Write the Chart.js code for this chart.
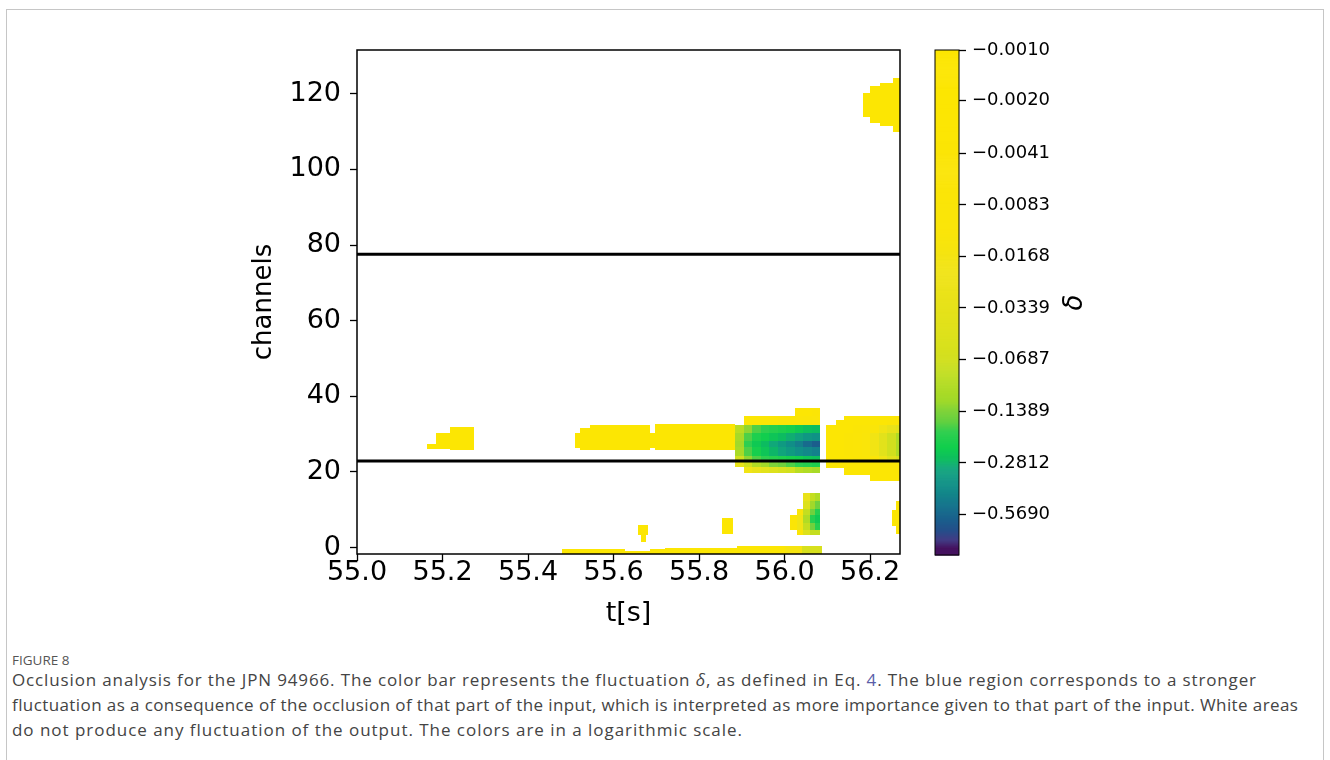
<!DOCTYPE html>
<html>
<head>
<meta charset="utf-8">
<script src="https://cdn.jsdelivr.net/npm/chart.js@4.4.1/dist/chart.umd.min.js"></script>
<style>
  body { margin: 0; background: #fff; width: 1330px; height: 760px; overflow: hidden; position: relative; font-family: "Open Sans", sans-serif; }
  #frame { position: absolute; left: 6px; top: 9px; width: 1316px; height: 800px; border: 1px solid #c6c6c6; }
  #heat { position: absolute; left: 0; top: 0; }
  #bar { position: absolute; left: 900px; top: 0; }
  .cap { position: absolute; left: 12px; white-space: nowrap; color: #444; font-size: 17px; line-height: 25px; }
  #figno { top: 652px; font-size: 13.5px; line-height: 16px; color: #555; }
  .ref { color: #5b5ea8; }
</style>
</head>
<body>
<div id="frame"></div>
<canvas id="heat" width="930" height="640"></canvas>
<canvas id="bar" width="300" height="640"></canvas>
<div id="figno" class="cap">FIGURE 8</div>
<div class="cap" style="top:667px" data-w="1244">Occlusion analysis for the JPN 94966. The color bar represents the fluctuation <i>δ</i>, as defined in Eq. <span class="ref">4</span>. The blue region corresponds to a stronger</div>
<div class="cap" style="top:692px" data-w="1286">fluctuation as a consequence of the occlusion of that part of the input, which is interpreted as more importance given to that part of the input. White areas</div>
<div class="cap" style="top:717px" data-w="730">do not produce any fluctuation of the output. The colors are in a logarithmic scale.</div>
<script>
// axes
const timeTicks = [55.0, 55.2, 55.4, 55.6, 55.8, 56.0, 56.2];
const channelTicks = [0, 20, 40, 60, 80, 100, 120];
const timeRange = [55.0, 56.27];
const channelRange = [-1.72, 131.6];
const boundaryChannels = [22.9, 77.6];

// colour bar ticks (delta)
const colorbarValues = [-0.0010, -0.0020, -0.0041, -0.0083, -0.0168, -0.0339, -0.0687, -0.1389, -0.2812, -0.5690];
const colorbarLabels = ['−0.0010', '−0.0020', '−0.0041', '−0.0083', '−0.0168', '−0.0339', '−0.0687', '−0.1389', '−0.2812', '−0.5690'];
const colorbarRange = [-0.001, -0.99];

// single patches: [t0, t1, ch0, ch1, delta]
const weakPatches = [
  [55.164, 55.185, 26.0, 27.5, -0.002],
  [55.185, 55.218, 26.0, 30.4, -0.002],
  [55.218, 55.274, 25.7, 32.0, -0.002],
  [55.510, 55.522, 26.2, 30.4, -0.002],
  [55.522, 55.545, 25.9, 31.7, -0.002],
  [55.545, 55.685, 25.7, 32.3, -0.002],
  [55.685, 55.697, 26.2, 30.4, -0.002],
  [55.697, 55.884, 25.7, 32.8, -0.002],
  [56.184, 56.200, 113.8, 120.1, -0.002],
  [56.200, 56.223, 112.4, 122.2, -0.002],
  [56.223, 56.254, 111.6, 123.0, -0.002],
  [56.254, 56.270, 109.8, 124.1, -0.002],
  [55.657, 55.681, 3.3, 5.9, -0.002],
  [55.664, 55.676, 1.5, 3.3, -0.002],
  [55.854, 55.880, 3.7, 7.9, -0.002],
  [56.251, 56.261, 5.8, 9.8, -0.002],
  [56.261, 56.270, 3.7, 12.4, -0.002],
  [55.480, 55.627, -1.72, -0.5, -0.002],
  [55.627, 55.685, -1.72, -0.8, -0.002],
  [55.685, 55.720, -1.72, -0.5, -0.002],
  [55.720, 55.889, -1.72, -0.2, -0.002],
  [55.889, 56.000, -1.72, 0.3, -0.002],
  [56.000, 56.040, -1.72, 0.3, -0.015],
  [56.040, 56.088, -1.72, 0.3, -0.06]
];

// main occlusion block (56 s): time edges, rows [ch0, ch1, deltas]
const coreTimes = [55.884, 55.904, 55.924, 55.944, 55.964, 55.984, 56.004, 56.024, 56.044, 56.064, 56.084];
const coreRows = [
  [34.9, 36.8, [null, null, null, null, null, null, null, -0.003, -0.003, -0.004]],
  [32.3, 34.9, [null, -0.003, -0.003, -0.003, -0.003, -0.004, -0.005, -0.006, -0.008, -0.010]],
  [30.4, 32.3, [-0.09, -0.13, -0.17, -0.19, -0.20, -0.21, -0.22, -0.24, -0.26, -0.27]],
  [28.3, 30.4, [-0.11, -0.17, -0.21, -0.23, -0.25, -0.27, -0.29, -0.32, -0.35, -0.37]],
  [26.5, 28.3, [-0.12, -0.19, -0.24, -0.27, -0.30, -0.34, -0.39, -0.46, -0.55, -0.62]],
  [24.3, 26.5, [-0.11, -0.17, -0.22, -0.25, -0.28, -0.31, -0.34, -0.38, -0.42, -0.45]],
  [22.5, 24.3, [-0.07, -0.13, -0.17, -0.19, -0.20, -0.21, -0.22, -0.23, -0.25, -0.26]],
  [21.2, 22.5, [-0.03, -0.07, -0.10, -0.12, -0.14, -0.15, -0.17, -0.19, -0.20, -0.21]],
  [19.6, 21.2, [null, -0.02, -0.03, -0.04, -0.05, -0.06, -0.07, -0.09, -0.10, -0.11]]
];

// block right of the gap
const sideTimes = [56.097, 56.12, 56.14, 56.16, 56.18, 56.20, 56.22, 56.24, 56.26, 56.27];
const sideRows = [
  [33.6, 34.9, [null, null, -0.003, -0.003, -0.003, -0.003, -0.003, -0.003, -0.003]],
  [32.3, 33.6, [null, -0.003, -0.003, -0.003, -0.003, -0.003, -0.003, -0.004, -0.005]],
  [30.4, 32.3, [-0.003, -0.003, -0.003, -0.004, -0.006, -0.010, -0.020, -0.030, -0.040]],
  [24.3, 30.4, [-0.003, -0.003, -0.004, -0.006, -0.010, -0.020, -0.040, -0.070, -0.100]],
  [22.5, 24.3, [-0.003, -0.003, -0.003, -0.004, -0.006, -0.010, -0.020, -0.040, -0.060]],
  [20.9, 22.5, [-0.003, -0.003, -0.003, -0.003, -0.003, -0.003, -0.004, -0.006, -0.008]],
  [19.3, 20.9, [null, null, -0.003, -0.003, -0.003, -0.003, -0.003, -0.003, -0.004]],
  [17.7, 19.3, [null, null, null, null, null, -0.003, -0.003, -0.003, -0.003]]
];

// small spot at low channels near 56.05 s
const spotTimes = [56.013, 56.029, 56.043, 56.059, 56.071, 56.084];
const spotRows = [
  [12.4, 14.3, [null, null, -0.03, -0.08, -0.10]],
  [10.3, 12.4, [null, null, -0.05, -0.12, -0.15]],
  [8.5, 10.3, [null, -0.01, -0.08, -0.15, -0.20]],
  [6.6, 8.5, [-0.005, -0.02, -0.10, -0.20, -0.24]],
  [4.5, 6.6, [-0.005, -0.02, -0.08, -0.15, -0.20]],
  [3.2, 4.5, [null, -0.005, -0.05, -0.08, -0.08]]
];

// colormap picked from the colour bar, keyed by |delta|
const colorStops = [
  [0.001, [253, 230, 0]], [0.012, [250, 229, 10]], [0.024, [238, 227, 24]],
  [0.048, [222, 225, 28]], [0.069, [210, 224, 30]], [0.091, [184, 221, 34]],
  [0.121, [160, 217, 42]], [0.139, [127, 211, 58]], [0.160, [100, 208, 64]],
  [0.184, [50, 207, 80]], [0.227, [17, 207, 77]], [0.271, [12, 188, 96]],
  [0.301, [16, 167, 122]], [0.360, [15, 148, 133]], [0.429, [18, 134, 138]],
  [0.512, [23, 115, 141]], [0.610, [26, 95, 140]], [0.702, [35, 80, 138]],
  [0.808, [66, 60, 133]], [0.905, [69, 18, 95]], [0.99, [69, 18, 95]]
];

function colorFor(m) {
  const lm = Math.log(m);
  if (m <= colorStops[0][0]) return 'rgb(' + colorStops[0][1] + ')';
  for (let i = 1; i < colorStops.length; i++) {
    if (m <= colorStops[i][0]) {
      const a = Math.log(colorStops[i - 1][0]), b = Math.log(colorStops[i][0]);
      const f = (lm - a) / (b - a);
      const c0 = colorStops[i - 1][1], c1 = colorStops[i][1];
      return 'rgb(' + c0.map((v, k) => Math.round(v + (c1[k] - v) * f)).join(',') + ')';
    }
  }
  return 'rgb(' + colorStops[colorStops.length - 1][1] + ')';
}

function blockCells(times, rows) {
  const out = [];
  rows.forEach(([c0, c1, vals]) => {
    vals.forEach((d, i) => {
      if (d !== null) out.push([times[i], times[i + 1], c0, c1, d]);
    });
  });
  return out;
}

const allCells = weakPatches.concat(
  blockCells(coreTimes, coreRows),
  blockCells(sideTimes, sideRows),
  blockCells(spotTimes, spotRows)
);

Chart.defaults.font.family = 'DejaVu Sans';
Chart.defaults.color = '#000';

const heatLayer = {
  id: 'heatLayer',
  beforeDatasetsDraw(chart) {
    const { ctx, chartArea: a, scales: { x, y } } = chart;
    ctx.save();
    ctx.beginPath();
    ctx.rect(a.left, a.top, a.right - a.left, a.bottom - a.top);
    ctx.clip();
    allCells.forEach(([t0, t1, c0, c1, d]) => {
      const x0 = Math.round(x.getPixelForValue(t0));
      const x1 = Math.round(x.getPixelForValue(t1));
      const y0 = Math.round(y.getPixelForValue(c1));
      const y1 = Math.round(y.getPixelForValue(c0));
      ctx.fillStyle = colorFor(Math.abs(d));
      ctx.fillRect(x0, y0, x1 - x0, y1 - y0);
    });
    ctx.restore();
  },
  afterDraw(chart) {
    const { ctx, chartArea: a } = chart;
    ctx.save();
    ctx.strokeStyle = '#000';
    ctx.lineWidth = 1.5;
    ctx.strokeRect(a.left, a.top, a.right - a.left, a.bottom - a.top);
    ctx.restore();
  }
};

const tickGrid = { drawOnChartArea: false, drawTicks: true, tickLength: 7, tickColor: '#000', tickWidth: 1.3 };

new Chart(document.getElementById('heat'), {
  type: 'scatter',
  data: {
    datasets: boundaryChannels.map(ch => ({
      data: [{ x: timeRange[0], y: ch }, { x: timeRange[1], y: ch }],
      showLine: true,
      borderColor: '#000',
      borderWidth: 3,
      pointRadius: 0
    }))
  },
  options: {
    responsive: false,
    animation: false,
    layout: { padding: { left: 245, top: 50, right: 30, bottom: 6 } },
    plugins: { legend: { display: false }, tooltip: { enabled: false } },
    scales: {
      x: {
        type: 'linear', min: timeRange[0], max: timeRange[1],
        afterBuildTicks: s => { s.ticks = timeTicks.map(v => ({ value: v })); },
        afterFit: s => { s.height = 80; s.paddingLeft = 0; s.paddingRight = 0; },
        ticks: { font: { size: 27 }, padding: -4, maxRotation: 0, callback: v => v.toFixed(1) },
        grid: tickGrid,
        border: { display: false },
        title: { display: true, text: 't[s]', font: { size: 27 }, padding: { top: 0, bottom: 4 } }
      },
      y: {
        type: 'linear', min: channelRange[0], max: channelRange[1],
        afterBuildTicks: s => { s.ticks = channelTicks.map(v => ({ value: v })); },
        afterFit: s => { s.width = 112; s.paddingTop = 0; s.paddingBottom = 0; },
        ticks: { font: { size: 27 }, padding: 9, callback: v => String(v) },
        grid: tickGrid,
        border: { display: false },
        title: { display: true, text: 'channels', font: { size: 26 }, padding: { top: 4, bottom: 0 } }
      }
    }
  },
  plugins: [heatLayer]
});

const barLayer = {
  id: 'barLayer',
  beforeDatasetsDraw(chart) {
    const { ctx, chartArea: a, scales: { y } } = chart;
    const lo = Math.log(-colorbarRange[0]), hi = Math.log(-colorbarRange[1]);
    const n = 500;
    ctx.save();
    for (let i = 0; i < n; i++) {
      const m0 = Math.exp(lo + (hi - lo) * i / n);
      const m1 = Math.exp(lo + (hi - lo) * (i + 1) / n);
      const p0 = y.getPixelForValue(m0), p1 = y.getPixelForValue(m1);
      ctx.fillStyle = colorFor(Math.sqrt(m0 * m1));
      ctx.fillRect(a.left, p0, a.right - a.left, p1 - p0 + 0.6);
    }
    ctx.strokeStyle = '#000';
    ctx.lineWidth = 1;
    ctx.strokeRect(a.left, a.top, a.right - a.left, a.bottom - a.top);
    ctx.fillStyle = '#000';
    ctx.font = 'italic 26px "DejaVu Sans"';
    ctx.textAlign = 'center';
    ctx.textBaseline = 'middle';
    ctx.translate(a.right + 116, (a.top + a.bottom) / 2);
    ctx.rotate(-Math.PI / 2);
    ctx.fillText('δ', 0, 0);
    ctx.restore();
  }
};

new Chart(document.getElementById('bar'), {
  type: 'scatter',
  data: { datasets: [{ data: [] }] },
  options: {
    responsive: false,
    animation: false,
    layout: { padding: { left: 35, top: 50, right: 111, bottom: 85 } },
    plugins: { legend: { display: false }, tooltip: { enabled: false } },
    scales: {
      x: { type: 'linear', min: 0, max: 1, display: false },
      y: {
        type: 'logarithmic', position: 'right', reverse: true,
        min: -colorbarRange[0], max: -colorbarRange[1],
        afterBuildTicks: s => { s.ticks = colorbarValues.map(v => ({ value: -v })); },
        afterFit: s => { s.width = 130; s.paddingTop = 0; s.paddingBottom = 0; },
        ticks: { font: { size: 18 }, padding: 6, callback: (v, i) => colorbarLabels[i] },
        grid: { drawOnChartArea: false, drawTicks: true, tickLength: 7, tickColor: '#000', tickWidth: 1.3 },
        border: { display: false }
      }
    }
  },
  plugins: [barLayer]
});

// stretch caption lines to the printed widths
document.querySelectorAll('[data-w]').forEach(el => {
  const w = el.getBoundingClientRect().width;
  const n = el.textContent.length - 1;
  el.style.letterSpacing = ((+el.dataset.w - w) / n).toFixed(3) + 'px';
});
</script>
</body>
</html>
